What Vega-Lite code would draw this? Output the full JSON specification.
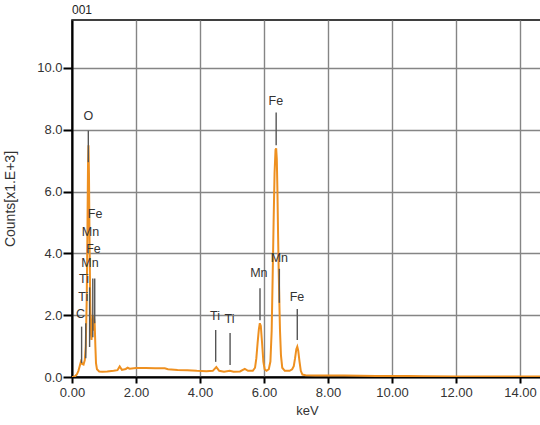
{
  "$schema": "https://vega.github.io/schema/vega-lite/v6.json",
  "width": 470,
  "height": 357,
  "autosize": "none",
  "padding": {"left": 72, "top": 20, "right": 0, "bottom": 48},
  "background": "white",
  "title": {"text": "001", "anchor": "start", "frame": "group", "fontSize": 12, "fontWeight": "normal", "font": "Liberation Sans", "color": "#222", "offset": 3},
  "config": {
    "view": {"stroke": "#000", "strokeWidth": 1.5},
    "font": "Liberation Sans",
    "axis": {
      "labelFont": "Liberation Sans", "labelFontSize": 13, "labelColor": "#333", "labelFlush": false,
      "titleFont": "Liberation Sans", "titleFontSize": 13, "titleFontWeight": "normal", "titleColor": "#333",
      "domainColor": "#000", "domainWidth": 2, "tickColor": "#000", "tickWidth": 2,
      "gridColor": "#858585", "gridWidth": 1.4, "gridOpacity": 1
    }
  },
  "datasets": {
    "spectrum": [
      {"keV": 0.0, "counts": 0.0}, {"keV": 0.05, "counts": 0.01}, {"keV": 0.1, "counts": 0.03}, {"keV": 0.15, "counts": 0.08},
      {"keV": 0.2, "counts": 0.2}, {"keV": 0.24, "counts": 0.35}, {"keV": 0.28, "counts": 0.5}, {"keV": 0.32, "counts": 0.42},
      {"keV": 0.36, "counts": 0.4}, {"keV": 0.4, "counts": 0.55}, {"keV": 0.43, "counts": 1.0}, {"keV": 0.46, "counts": 2.5},
      {"keV": 0.48, "counts": 4.5}, {"keV": 0.5, "counts": 6.8}, {"keV": 0.515, "counts": 7.5}, {"keV": 0.53, "counts": 6.6},
      {"keV": 0.55, "counts": 4.2}, {"keV": 0.57, "counts": 2.4}, {"keV": 0.59, "counts": 1.4}, {"keV": 0.61, "counts": 1.2},
      {"keV": 0.63, "counts": 1.6}, {"keV": 0.65, "counts": 2.0}, {"keV": 0.67, "counts": 1.5}, {"keV": 0.69, "counts": 1.9},
      {"keV": 0.71, "counts": 1.7}, {"keV": 0.73, "counts": 1.0}, {"keV": 0.75, "counts": 0.45}, {"keV": 0.78, "counts": 0.25},
      {"keV": 0.85, "counts": 0.18}, {"keV": 0.95, "counts": 0.17}, {"keV": 1.1, "counts": 0.18}, {"keV": 1.3, "counts": 0.2},
      {"keV": 1.42, "counts": 0.22}, {"keV": 1.49, "counts": 0.34}, {"keV": 1.56, "counts": 0.23}, {"keV": 1.68, "counts": 0.26},
      {"keV": 1.74, "counts": 0.3}, {"keV": 1.8, "counts": 0.27}, {"keV": 2.0, "counts": 0.29}, {"keV": 2.3, "counts": 0.29},
      {"keV": 2.6, "counts": 0.28}, {"keV": 2.9, "counts": 0.28}, {"keV": 3.0, "counts": 0.25}, {"keV": 3.3, "counts": 0.23},
      {"keV": 3.6, "counts": 0.22}, {"keV": 3.9, "counts": 0.2}, {"keV": 4.2, "counts": 0.19}, {"keV": 4.4, "counts": 0.2},
      {"keV": 4.51, "counts": 0.32}, {"keV": 4.6, "counts": 0.2}, {"keV": 4.75, "counts": 0.17}, {"keV": 4.93, "counts": 0.2},
      {"keV": 5.05, "counts": 0.17}, {"keV": 5.25, "counts": 0.18}, {"keV": 5.4, "counts": 0.26}, {"keV": 5.5, "counts": 0.2},
      {"keV": 5.65, "counts": 0.2}, {"keV": 5.72, "counts": 0.3}, {"keV": 5.76, "counts": 0.6}, {"keV": 5.8, "counts": 1.1},
      {"keV": 5.84, "counts": 1.55}, {"keV": 5.87, "counts": 1.74}, {"keV": 5.9, "counts": 1.65}, {"keV": 5.94, "counts": 1.1},
      {"keV": 5.98, "counts": 0.5}, {"keV": 6.02, "counts": 0.25}, {"keV": 6.08, "counts": 0.2}, {"keV": 6.15, "counts": 0.25},
      {"keV": 6.2, "counts": 0.5}, {"keV": 6.24, "counts": 1.5}, {"keV": 6.27, "counts": 3.2}, {"keV": 6.3, "counts": 5.0},
      {"keV": 6.33, "counts": 6.6}, {"keV": 6.36, "counts": 7.35}, {"keV": 6.38, "counts": 7.4}, {"keV": 6.4, "counts": 7.05},
      {"keV": 6.42, "counts": 6.0}, {"keV": 6.44, "counts": 4.6}, {"keV": 6.46, "counts": 3.4}, {"keV": 6.48, "counts": 2.4},
      {"keV": 6.5, "counts": 1.5}, {"keV": 6.53, "counts": 0.7}, {"keV": 6.57, "counts": 0.3}, {"keV": 6.65, "counts": 0.2},
      {"keV": 6.8, "counts": 0.2}, {"keV": 6.88, "counts": 0.25}, {"keV": 6.93, "counts": 0.35}, {"keV": 6.97, "counts": 0.6},
      {"keV": 7.01, "counts": 0.9}, {"keV": 7.04, "counts": 0.98}, {"keV": 7.07, "counts": 0.85}, {"keV": 7.11, "counts": 0.5},
      {"keV": 7.15, "counts": 0.2}, {"keV": 7.2, "counts": 0.08}, {"keV": 7.3, "counts": 0.06}, {"keV": 7.6, "counts": 0.05},
      {"keV": 8.0, "counts": 0.05}, {"keV": 8.5, "counts": 0.045}, {"keV": 9.0, "counts": 0.04}, {"keV": 9.5, "counts": 0.035},
      {"keV": 10.0, "counts": 0.03}, {"keV": 10.5, "counts": 0.03}, {"keV": 11.0, "counts": 0.025}, {"keV": 12.0, "counts": 0.02},
      {"keV": 13.0, "counts": 0.02}, {"keV": 14.0, "counts": 0.02}, {"keV": 14.7, "counts": 0.02}
    ],
    "markers": [
      {"keV": 0.3, "top": 1.63, "bottom": 0.45},
      {"keV": 0.43, "top": 1.74, "bottom": 0.61},
      {"keV": 0.51, "top": 7.97, "bottom": 6.95},
      {"keV": 0.55, "top": 2.9, "bottom": 0.97},
      {"keV": 0.65, "top": 3.19, "bottom": 1.29},
      {"keV": 0.71, "top": 3.19, "bottom": 1.74},
      {"keV": 4.49, "top": 1.52, "bottom": 0.49},
      {"keV": 4.94, "top": 1.42, "bottom": 0.39},
      {"keV": 5.875, "top": 2.87, "bottom": 1.84},
      {"keV": 6.38, "top": 8.56, "bottom": 7.5},
      {"keV": 6.48, "top": 3.5, "bottom": 2.4},
      {"keV": 7.04, "top": 2.2, "bottom": 1.2}
    ],
    "labels": [
      {"keV": 0.27, "counts": 2.04, "element": "C"},
      {"keV": 0.35, "counts": 2.6, "element": "Ti"},
      {"keV": 0.375, "counts": 3.17, "element": "Ti"},
      {"keV": 0.56, "counts": 3.69, "element": "Mn"},
      {"keV": 0.67, "counts": 4.14, "element": "Fe"},
      {"keV": 0.58, "counts": 4.7, "element": "Mn"},
      {"keV": 0.72, "counts": 5.27, "element": "Fe"},
      {"keV": 0.51, "counts": 8.45, "element": "O"},
      {"keV": 4.47, "counts": 1.96, "element": "Ti"},
      {"keV": 4.92, "counts": 1.89, "element": "Ti"},
      {"keV": 5.84, "counts": 3.35, "element": "Mn"},
      {"keV": 6.37, "counts": 8.94, "element": "Fe"},
      {"keV": 6.48, "counts": 3.84, "element": "Mn"},
      {"keV": 7.03, "counts": 2.6, "element": "Fe"}
    ]
  },
  "layer": [
    {
      "data": {"name": "spectrum"},
      "mark": {"type": "line", "color": "#EE9020", "strokeWidth": 2, "clip": true},
      "encoding": {
        "x": {"field": "keV", "type": "quantitative", "scale": {"domain": [0, 14.6875], "nice": false, "zero": false},
          "axis": {"title": "keV", "values": [0, 2, 4, 6, 8, 10, 12, 14], "format": ".2f", "tickSize": 6, "labelPadding": 3, "titlePadding": 5}},
        "y": {"field": "counts", "type": "quantitative", "scale": {"domain": [0, 11.55], "nice": false},
          "axis": {"title": "Counts[x1.E+3]", "values": [0, 2, 4, 6, 8, 10], "format": ".1f", "tickSize": 9, "labelPadding": 1, "titleX": -55, "titleFontSize": 14}}
      }
    },
    {
      "data": {"name": "markers"},
      "mark": {"type": "rule", "color": "#555", "strokeWidth": 1.4},
      "encoding": {
        "x": {"field": "keV", "type": "quantitative"},
        "y": {"field": "top", "type": "quantitative"},
        "y2": {"field": "bottom"}
      }
    },
    {
      "data": {"name": "labels"},
      "mark": {"type": "text", "fontSize": 12.5, "color": "#333", "font": "Liberation Sans", "baseline": "middle", "align": "center"},
      "encoding": {
        "x": {"field": "keV", "type": "quantitative"},
        "y": {"field": "counts", "type": "quantitative"},
        "text": {"field": "element"}
      }
    }
  ]
}
